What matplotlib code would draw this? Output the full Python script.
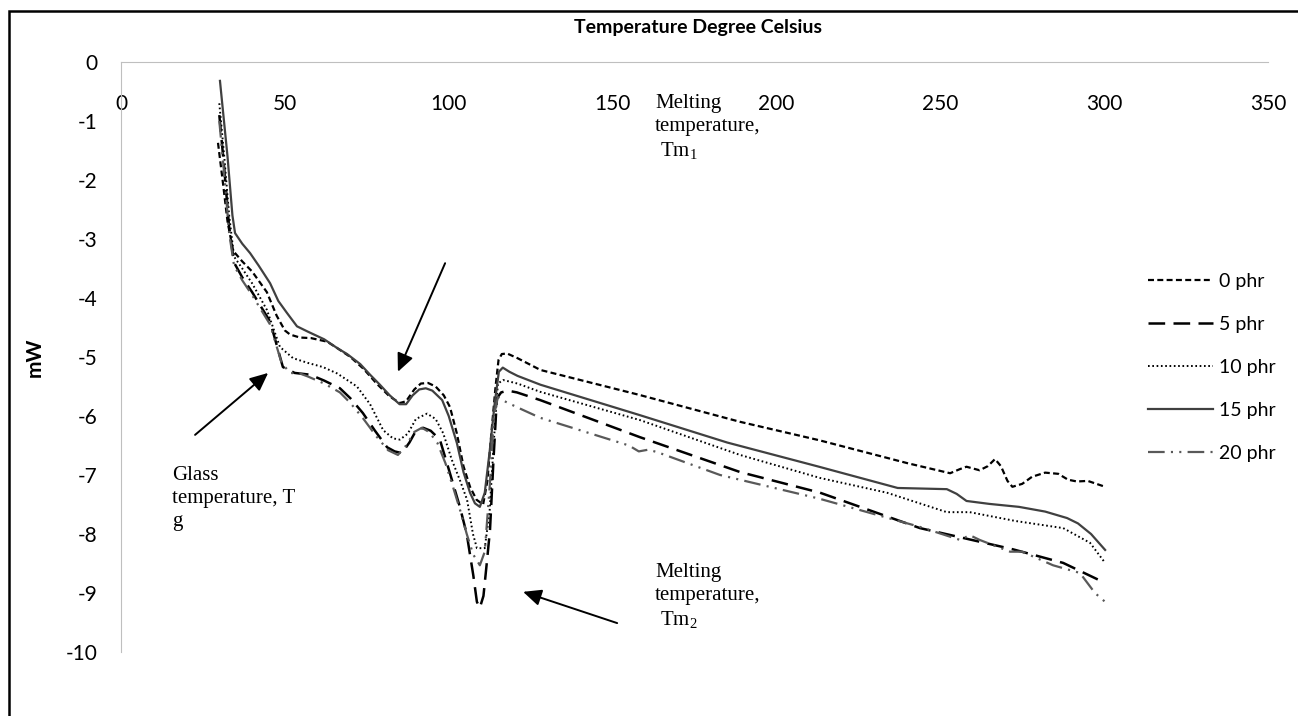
import matplotlib
matplotlib.use("Agg")
import matplotlib.pyplot as plt
from matplotlib.patches import Rectangle

# DSC curves (temperature in deg C, heat flow in mW)
t_0 = [29.6, 31, 32.5, 34.2, 37, 40, 44.5, 47.5, 50, 51.6, 54.6, 58, 62.9, 66, 70, 74, 78, 82, 85.1, 87,
       89.5, 91.5, 93.7, 96, 98.5, 100.4, 102.5, 104.5, 106.5, 108.5, 110.5, 111.8, 113, 114.3, 115.2, 116.2,
       117.8, 121, 128, 158, 189, 213, 240, 253, 256, 258, 262, 264.5, 266.7, 268.5, 270.5, 272, 275, 278,
       282, 286, 289, 291.7, 295, 300.3]
mw_0 = [-1.37, -2.0, -2.7, -3.2, -3.38, -3.55, -3.9, -4.3, -4.55, -4.62, -4.67, -4.68, -4.74, -4.85, -5.0,
        -5.2, -5.45, -5.67, -5.78, -5.75, -5.55, -5.45, -5.44, -5.5, -5.65, -5.85, -6.3, -6.85, -7.2, -7.42,
        -7.5, -7.1, -6.3, -5.5, -5.05, -4.95, -4.94, -5.02, -5.22, -5.64, -6.1, -6.41, -6.8, -6.97, -6.9,
        -6.86, -6.92, -6.85, -6.73, -6.85, -7.1, -7.2, -7.15, -7.03, -6.96, -6.98, -7.08, -7.11, -7.1, -7.2]

t_5 = [30, 31.5, 33, 34.5, 37, 40, 45.5, 49.4, 53, 57.7, 62, 66.8, 70, 73.8, 77.5, 81.2, 83.5, 85.7, 88, 90,
       92.2, 94.5, 97.3, 100, 103.4, 105.5, 107.5, 108.6, 109.5, 110.6, 111.6, 112.6, 113.7, 114.7, 116, 118,
       120.8, 127.9, 158.4, 188.9, 213.3, 243.8, 272.2, 287.5, 300.3]
mw_5 = [-0.9, -1.8, -2.8, -3.4, -3.65, -3.9, -4.4, -5.17, -5.27, -5.3, -5.4, -5.53, -5.7, -5.95, -6.25,
        -6.53, -6.6, -6.63, -6.45, -6.25, -6.2, -6.25, -6.4, -6.9, -7.54, -8.0, -8.7, -9.15, -9.25, -9.05,
        -8.5, -7.93, -6.7, -5.7, -5.6, -5.57, -5.6, -5.73, -6.36, -6.95, -7.3, -7.9, -8.26, -8.49, -8.83]

t_10 = [30, 31.5, 33, 34.5, 37, 40, 44.5, 48.5, 52.5, 57, 61.6, 66, 72, 76, 80, 83, 85.1, 87.5, 90, 93.4, 96,
        98.3, 101, 103.5, 105.6, 107.4, 108.6, 111, 112.5, 113.8, 115, 116.6, 121, 127.9, 158.4, 188.9,
        213.3, 233.7, 252, 259, 273, 287.5, 295.7, 300.3]
mw_10 = [-0.7, -1.6, -2.6, -3.3, -3.5, -3.75, -4.2, -4.83, -5.02, -5.1, -5.17, -5.28, -5.5, -5.8, -6.24,
         -6.38, -6.4, -6.3, -6.05, -5.96, -6.05, -6.29, -6.75, -7.1, -7.42, -8.0, -8.24, -8.24, -7.6, -6.4,
         -5.45, -5.39, -5.45, -5.59, -6.07, -6.66, -7.05, -7.3, -7.63, -7.63, -7.78, -7.9, -8.15, -8.49]

t_15 = [30.2, 32.5, 34.0, 34.8, 37, 39.4, 42, 45.5, 48, 50.6, 53.7, 57, 62, 66, 69, 73, 76, 79, 82, 85, 87,
        89, 91, 93, 95, 98, 100, 102.5, 104.5, 106.5, 108, 109.5, 111, 112.5, 114, 115.3, 116.5, 118.5, 121,
        128, 158, 185, 213, 237, 252, 255, 258, 265, 274, 282, 288.7, 292, 296, 300.3]
mw_15 = [-0.32, -1.6, -2.6, -2.9, -3.08, -3.24, -3.45, -3.75, -4.05, -4.25, -4.48, -4.57, -4.7, -4.85,
         -4.95, -5.12, -5.3, -5.47, -5.65, -5.8, -5.8, -5.65, -5.55, -5.53, -5.57, -5.73, -6.0, -6.46,
         -6.95, -7.3, -7.48, -7.54, -7.3, -6.6, -5.8, -5.25, -5.18, -5.25, -5.32, -5.47, -5.98, -6.45,
         -6.86, -7.22, -7.24, -7.32, -7.44, -7.49, -7.54, -7.62, -7.73, -7.82, -8.0, -8.27]

t_20 = [30, 31.5, 33, 34.5, 37, 40, 45.5, 49, 51.6, 54.6, 57, 62, 66.8, 70, 74, 78, 81.5, 84.5, 87, 89.5,
        91.8, 94, 96.5, 99, 101.3, 103.5, 105.5, 107.5, 109.5, 111, 112.5, 113.8, 115, 116.3, 120.8, 127.9,
        155, 158, 161, 164, 182.8, 213, 243.8, 256, 259, 262, 271.3, 275, 284.4, 292.6, 297.2, 300.3]
mw_20 = [-1.0, -1.9, -2.9, -3.45, -3.7, -3.95, -4.45, -5.1, -5.27, -5.28, -5.33, -5.45, -5.6, -5.78, -6.05,
         -6.35, -6.58, -6.66, -6.5, -6.27, -6.2, -6.27, -6.45, -6.8, -7.2, -7.6, -8.0, -8.35, -8.53, -8.3,
         -7.2, -6.0, -5.68, -5.73, -5.85, -6.03, -6.5, -6.6, -6.57, -6.62, -7.0, -7.4, -7.88, -8.1, -8.02,
         -8.1, -8.3, -8.3, -8.53, -8.66, -9.0, -9.15]

labels = ["0 phr", "5 phr", "10 phr", "15 phr", "20 phr"]
x_ticks = [0, 50, 100, 150, 200, 250, 300, 350]
y_ticks = [0, -1, -2, -3, -4, -5, -6, -7, -8, -9, -10]

plt.rcParams["font.family"] = ["Lato", "DejaVu Sans"]
plt.rcParams["axes.unicode_minus"] = False
plt.rcParams["lines.scale_dashes"] = False
plt.rcParams["mathtext.fontset"] = "custom"
plt.rcParams["mathtext.rm"] = "Liberation Serif"

fig = plt.figure(figsize=(12.98, 7.16), dpi=100)
ax = fig.add_axes([121 / 1298, 1 - 652 / 716, (1268 - 121) / 1298, (652 - 62) / 716])

ax.plot(t_0, mw_0, color="black", lw=1.6, linestyle=(0, (4.3, 2.4)), label=labels[0])
ax.plot(t_5, mw_5, color="black", lw=1.8, linestyle=(0, (12, 6)), label=labels[1])
ax.plot(t_10, mw_10, color="black", lw=1.4, linestyle=(0, (1.2, 1.9)), label=labels[2])
ax.plot(t_15, mw_15, color="#404040", lw=1.6, linestyle="-", label=labels[3])
ax.plot(t_20, mw_20, color="#595959", lw=1.6, linestyle=(0, (12, 4.5, 1.5, 4.5, 1.5, 4.5)), label=labels[4])

ax.set_xlim(0, 350)
ax.set_ylim(-10, 0)
ax.set_xticks(x_ticks)
ax.set_yticks(y_ticks)
ax.spines["top"].set_visible(False)
ax.spines["right"].set_visible(False)
ax.spines["bottom"].set_position(("data", 0))
ax.spines["bottom"].set_color("#bfbfbf")
ax.spines["left"].set_color("#bfbfbf")
ax.tick_params(axis="x", length=0, pad=23, labelsize=15)
ax.tick_params(axis="y", length=0, pad=17, labelsize=15)
for lbl in ax.get_yticklabels():
    lbl.set_horizontalalignment("right")

fig.text(698 / 1298, 1 - 28 / 716, "Temperature Degree Celsius", ha="center", va="center",
         fontsize=14, fontweight="bold")
fig.text(35 / 1298, 1 - 357 / 716, "mW", ha="center", va="center", rotation=90,
         fontsize=15, fontweight="bold")

serif = "Liberation Serif"
ax.text(163, -0.55, "Melting\ntemperature,\n Tm$_\\mathregular{1}$", family=serif, fontsize=15,
        ha="left", va="top", linespacing=1.27)
ax.text(15.5, -6.85, "Glass\ntemperature, T\ng", family=serif, fontsize=15,
        ha="left", va="top", linespacing=1.27)
ax.text(163, -8.5, "Melting\ntemperature,\n Tm$_\\mathregular{2}$", family=serif, fontsize=15,
        ha="left", va="top", linespacing=1.27)

arrow = dict(arrowstyle="-|>,head_length=1.1,head_width=0.5", color="black", lw=1.4,
             shrinkA=0, shrinkB=0)
ax.annotate("", xy=(84.5, -5.25), xytext=(98.9, -3.41), arrowprops=arrow)
ax.annotate("", xy=(44.9, -5.27), xytext=(22.6, -6.32), arrowprops=arrow)
ax.annotate("", xy=(122.7, -8.98), xytext=(151.4, -9.51), arrowprops=arrow)

ax.legend(loc="upper left", bbox_to_anchor=(1148 / 1298, 1 - 273 / 716), bbox_transform=fig.transFigure,
          frameon=False, fontsize=14, handlelength=3.35, handletextpad=0.3, labelspacing=1.34,
          borderpad=0, borderaxespad=0)

fig.add_artist(Rectangle((9 / 1298, -0.1), 1.1, 1 - 11 / 716 + 0.1, transform=fig.transFigure,
                         fill=False, edgecolor="black", lw=1.8))

fig.savefig("out.png", dpi=100)
